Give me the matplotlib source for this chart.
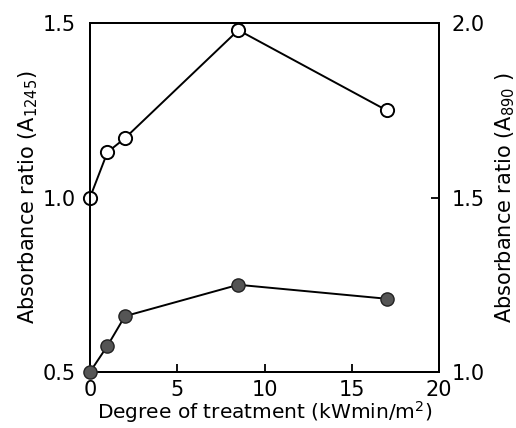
import numpy as np
import matplotlib
matplotlib.use("Agg")
import matplotlib.pyplot as plt

plt.rcParams['font.family'] = ['DejaVu Sans']
plt.rcParams['mathtext.default'] = 'regular'

# degree of treatment (kWmin/m2)
treatment = [0, 1, 2, 8.5, 17]
# open circles, left axis (A1245)
ratio_1245 = [1.0, 1.13, 1.17, 1.48, 1.25]
# filled circles, right axis (A890)
ratio_890 = [1.0, 1.075, 1.16, 1.25, 1.21]

fig = plt.figure(figsize=(5.16, 4.28), dpi=100)
ax = fig.add_axes([0.1744, 0.1308, 0.6764, 0.8152])
ax2 = ax.twinx()

ax.plot(treatment, ratio_1245, '-', color='black', lw=1.4, marker='o',
        ms=9.5, mfc='white', mec='black', mew=1.4, clip_on=False, zorder=3)
ax2.plot(treatment, ratio_890, '-', color='black', lw=1.4, marker='o',
         ms=9.5, mfc='#555555', mec='#222222', mew=1.0, clip_on=False, zorder=3)

ax.set_xlim(0, 20)
ax.set_ylim(0.5, 1.5)
ax2.set_ylim(1.0, 2.0)
ax.set_xticks([0, 5, 10, 15, 20])
ax.set_yticks([0.5, 1.0, 1.5])
ax2.set_yticks([1.0, 1.5, 2.0])
ax.set_yticklabels(['0.5', '1.0', '1.5'])
ax2.set_yticklabels(['1.0', '1.5', '2.0'])

for a in (ax, ax2):
    for s in a.spines.values():
        s.set_linewidth(1.4)
ax.tick_params(axis='both', direction='in', length=6, width=1.3, labelsize=15)
ax.tick_params(axis='y', pad=10)
ax.tick_params(axis='x', pad=6)
ax2.tick_params(axis='y', direction='in', length=6, width=1.3, labelsize=15, pad=9)

ax.set_xlabel('Degree of treatment (kWmin/m$^2$)', fontsize=14.5, labelpad=-1)
ax.set_ylabel('Absorbance ratio (A$_{1245}$)', fontsize=15, labelpad=2)
ax2.set_ylabel('Absorbance ratio (A$_{890}$ )', fontsize=15, labelpad=6)

fig.savefig('out.png', dpi=100)
